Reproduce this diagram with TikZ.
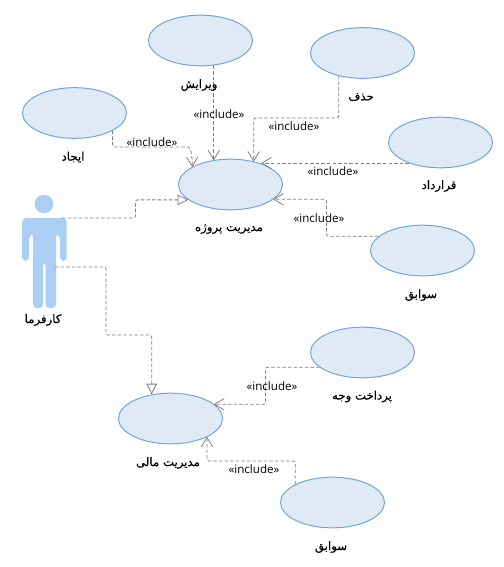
\documentclass[tikz,border=0pt]{standalone}
\usepackage{fontspec}
\usetikzlibrary{shapes.geometric,arrows.meta}
\setmainfont{Open Sans}
\TeXXeTstate=1
\newfontfamily\arabicfont[Script=Arabic,FakeBold=0.3]{DejaVu Sans}
\definecolor{ucfill}{HTML}{E0EAF5}
\definecolor{ucline}{HTML}{6FA5DD}
\definecolor{actorblue}{HTML}{AACFF2}
\definecolor{connline}{HTML}{808080}
\tikzset{
  usecase/.style={ellipse,draw=ucline,fill=ucfill,line width=0.75pt,minimum width=78pt,minimum height=38pt,inner sep=0pt},
  conn/.style={draw=connline,line width=0.6pt,dash pattern=on 2.6pt off 1.6pt},
  incl/.style={conn,-{Straight Barb[length=7pt,width=8.5pt,line width=0.6pt,round=false]},rounded corners=1.5pt},
  gener/.style={conn,-{Triangle[open,length=8pt,width=8pt,fill=white,line width=0.6pt]},rounded corners=1.5pt},
  ulabel/.style={inner sep=0pt,font=\arabicfont\fontsize{8.8}{10}\selectfont,text=black},
  stereo/.style={inner sep=0pt,font=\fontsize{8.7}{10}\selectfont,text=black},
}
\begin{document}
\begin{tikzpicture}[x=0.75pt,y=-0.75pt]
\useasboundingbox (0,0) rectangle (503,567);
\node[usecase] (ijad) at (74.5,113) {};
\node[usecase] (vir) at (200.5,40.5) {};
\node[usecase] (hazf) at (362.5,53) {};
\node[usecase] (ghar) at (440.5,142.5) {};
\node[usecase] (mod) at (230.5,184.5) {};
\node[usecase] (sav) at (422.5,250.5) {};
\node[usecase] (pard) at (362.5,352.5) {};
\node[usecase] (mali) at (170.5,418.5) {};
\node[usecase] (savb) at (332.5,502.5) {};
% actor
\fill[actorblue] (44,204) circle[radius=9.3];
\coordinate (actorshoulder) at (62,218);
\coordinate (actorhip) at (55,267);
\fill[actorblue,rounded corners=3pt]
  (22,261) -- (22,218) -- (66.7,218) -- (66.7,261) -- (60,261) -- (60,236) -- (56,233) -- (56,308) -- (45.5,308) -- (45.5,262) -- (43,262) -- (43,308) -- (33,308) -- (33,233) -- (29,236) -- (29,261) -- cycle;
% connectors
\draw[incl] (ijad.-25.6) |- (186,147) .. controls (190,147) and (192,152) .. (mod.155.4);
\draw[incl] (vir.-62.2) -- (vir.-62.2 |- mod.125.2);
\draw[incl] (hazf.-136.7) |- (300,118) -| (mod.45);
\draw[incl] (ghar.213.9) -- (mod.34.1 |- ghar.213.9);
\draw[incl] (sav.162) -| (326.5,220) |- (mod.-19);
\draw[gener] (actorshoulder) -| (135.5,209) |- (mod.200);
\draw[gener] (actorhip) -| (106,335) -| (mali.128.7);
\draw[incl] (pard.199.1) -| (265.5,385) |- (mali.18.4);
\draw[incl] (savb.154.2) |- (250,461) -| (mali.-27);
% labels
\node[ulabel] (l1) at (73,157) {\beginR ایجاد\endR};
\node[ulabel] (l2) at (199,85) {\beginR ویرایش\endR};
\node[ulabel] (l3) at (361,97) {\beginR حذف\endR};
\node[ulabel] (l4) at (439,186) {\beginR قرارداد\endR};
\node[ulabel] (l5) at (229,229) {\beginR مدیریت پروژه\endR};
\node[ulabel] (l6) at (421,295) {\beginR سوابق\endR};
\node[ulabel] (l7) at (43,320) {\beginR کارفرما\endR};
\node[ulabel] (l8) at (362,396.5) {\beginR پرداخت وجه\endR};
\node[ulabel] (l9) at (168,463) {\beginR مدیریت مالی\endR};
\node[ulabel] (l10) at (331,547) {\beginR سوابق\endR};
\node[stereo] (s1) at (152,142) {«include»};
\node[stereo] (s2) at (219,114.5) {«include»};
\node[stereo] (s3) at (294,126.5) {«include»};
\node[stereo] (s4) at (333,171.5) {«include»};
\node[stereo] (s5) at (319,218) {«include»};
\node[stereo] (s6) at (272,386) {«include»};
\node[stereo] (s7) at (254,469) {«include»};
\end{tikzpicture}
\end{document}
